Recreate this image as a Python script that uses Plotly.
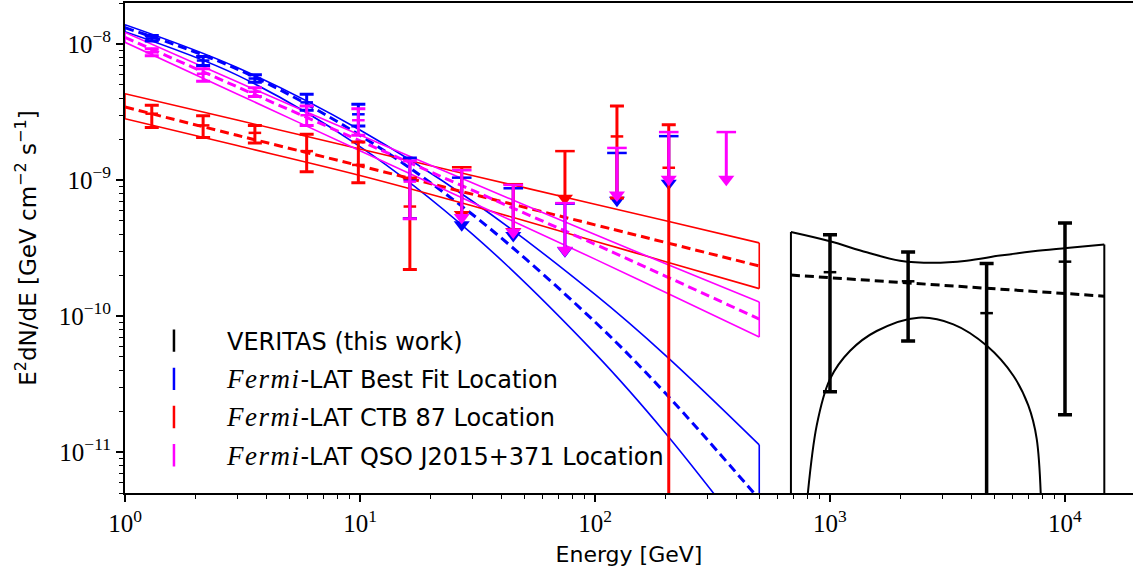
import plotly.graph_objects as go

# ---------------- Fermi-LAT spectral points ----------------
fermi_E = [1.30, 2.15, 3.57, 5.93, 9.84, 16.3]

blue_F = [1.10e-8, 7.55e-9, 5.57e-9, 3.72e-9, 3.04e-9, 1.00e-9]
blue_hi = [1.156e-8, 8.07e-9, 5.93e-9, 4.26e-9, 3.60e-9, 1.45e-9]
blue_lo = [1.05e-8, 6.94e-9, 5.23e-9, 3.25e-9, 2.49e-9, 5.2e-10]
blue_ul_E = [27.1, 44.9, 74.5, 124, 206]
blue_ul = [1.04e-9, 8.69e-10, 6.7e-10, 1.58e-9, 2.10e-9]

mag_F = [8.68e-9, 6.04e-9, 4.45e-9, 2.99e-9, 2.75e-9, 9.73e-10]
mag_hi = [9.2e-9, 6.56e-9, 4.76e-9, 3.50e-9, 3.34e-9, 1.38e-9]
mag_lo = [8.2e-9, 5.32e-9, 4.11e-9, 2.52e-9, 2.13e-9, 5.19e-10]
mag_ul_E = [27.1, 44.9, 74.5, 124, 206, 362]
mag_ul = [1.18e-9, 9.2e-10, 6.76e-10, 1.72e-9, 2.25e-9, 2.25e-9]

red_E = [1.30, 2.15, 3.57, 5.93, 9.84, 16.3, 124, 206]
red_F = [3.07e-9, 2.52e-9, 2.22e-9, 1.63e-9, 1.29e-9, 6.38e-10, 2.09e-9, 1.23e-9]
red_hi = [3.54e-9, 2.97e-9, 2.52e-9, 2.17e-9, 1.90e-9, 1.035e-9, 3.5e-9, 2.55e-9]
red_lo = [2.43e-9, 2.05e-9, 1.87e-9, 1.15e-9, 9.55e-10, 2.2e-10, 7.38e-10, 0.0]
red_ul_E = [27.1, 44.9, 74.5]
red_ul = [1.24e-9, 9.31e-10, 1.63e-9]

# ---------------- Fermi-LAT fitted spectra (butterflies) ----------------
fit_E = [1, 3, 10, 30, 100, 200, 500]
blue_fit = [1.315e-8, 6.54e-9, 2.13e-9, 5.6e-10, 9.05e-11, 2.69e-11, 4.5e-12]
blue_fit_hi = [1.384e-8, 6.71e-9, 2.33e-9, 7.01e-10, 1.44e-10, 5.12e-11, 1.13e-11]
blue_fit_lo = [1.23e-8, 5.90e-9, 1.76e-9, 4.02e-10, 5.31e-11, 1.37e-11, 1.83e-12]

red_fit = [3.44e-9, 2.13e-9, 1.27e-9, 7.87e-10, 4.68e-10, 3.47e-10, 2.33e-10]
red_fit_hi = [4.31e-9, 2.76e-9, 1.69e-9, 1.08e-9, 6.64e-10, 5.01e-10, 3.45e-10]
red_fit_lo = [2.82e-9, 1.79e-9, 1.08e-9, 6.46e-10, 3.55e-10, 2.51e-10, 1.59e-10]

mag_fit = [1.117e-8, 4.84e-9, 1.94e-9, 8.41e-10, 3.37e-10, 1.96e-10, 9.5e-11]
mag_fit_hi = [1.216e-8, 5.27e-9, 2.14e-9, 9.53e-10, 3.98e-10, 2.42e-10, 1.27e-10]
mag_fit_lo = [1.028e-8, 4.29e-9, 1.64e-9, 6.84e-10, 2.62e-10, 1.49e-10, 7.0e-11]

# ---------------- VERITAS ----------------
ver_E = [1000, 2150, 4640, 10000]
ver_F = [2.10e-10, 1.80e-10, 1.05e-10, 2.51e-10]
ver_hi = [3.96e-10, 2.96e-10, 2.43e-10, 4.82e-10]
ver_lo = [2.78e-11, 6.56e-11, 0.0, 1.88e-11]

ver_fit_E = [682, 14700]
ver_fit = [2.0e-10, 1.40e-10]
ver_band_E = [682, 1000, 1433, 1985, 2754, 3818, 5290, 7330, 10160, 14700]
ver_band_hi = [4.14e-10, 3.54e-10, 2.94e-10, 2.55e-10, 2.46e-10, 2.55e-10, 2.78e-10, 2.99e-10, 3.16e-10, 3.36e-10]
ver_dome_E = [783, 878, 1000, 1218, 1580, 2377, 3350, 4650, 6030, 6980, 7580, 7960]
ver_dome = [3e-12, 1.57e-11, 3.44e-11, 5.55e-11, 7.76e-11, 9.73e-11, 8.69e-11, 6.04e-11, 3.64e-11, 2.2e-11, 1.25e-11, 3e-12]

FERMI = ("<span style=\"font-family:'Liberation Serif';font-style:italic;"
         "font-size:27px;letter-spacing:1.5px\">Fermi</span>")
legend_names = [
    "VERITAS (this work)",
    FERMI + "-LAT Best Fit Location",
    FERMI + "-LAT CTB 87 Location",
    FERMI + "-LAT QSO J2015+371 Location",
]
legend_colors = ["#000000", "#0000ff", "#ff0000", "#ff00ff"]

BLUE, RED, MAG, BLACK = "#0000ff", "#ff0000", "#ff00ff", "#000000"
FLOOR = 1e-14
ARROW = 0.45

fig = go.Figure()


def line(x, y, color, width=1.6, dash=None, shape="spline"):
    fig.add_trace(go.Scatter(x=x, y=y, mode="lines", showlegend=False, hoverinfo="skip",
                             line=dict(color=color, width=width, dash=dash, shape=shape)))


def band(E, hi, lo, fit, color):
    line(E, hi, color)
    line(E, lo, color)
    line([E[0], E[0], None, E[-1], E[-1]], [lo[0], hi[0], None, hi[-1], lo[-1]], color, shape="linear")
    line(E, fit, color, width=3, dash="9px,5px")


def points(E, F, hi, lo, color, thick=3):
    fig.add_trace(go.Scatter(
        x=E, y=F, mode="markers", showlegend=False, hoverinfo="skip",
        marker=dict(symbol="line-ew", size=9, color=color, line=dict(color=color, width=2.5)),
        error_y=dict(type="data", symmetric=False,
                     array=[h - f for h, f in zip(hi, F)],
                     arrayminus=[f - l for f, l in zip(F, lo)],
                     color=color, thickness=thick, width=7)))


def uplims(E, ul, color):
    tip = [u * ARROW for u in ul]
    fig.add_trace(go.Scatter(
        x=E, y=tip, mode="markers", showlegend=False, hoverinfo="skip",
        marker=dict(symbol="triangle-down", size=14, color=color, line=dict(width=0)),
        error_y=dict(type="data", symmetric=False,
                     array=[u - t for u, t in zip(ul, tip)], arrayminus=[0] * len(ul),
                     color=color, thickness=3, width=0)))
    fig.add_trace(go.Scatter(
        x=E, y=ul, mode="markers", showlegend=False, hoverinfo="skip",
        marker=dict(symbol="line-ew", size=14, color=color, line=dict(color=color, width=2.5))))


# butterflies
band(fit_E, blue_fit_hi, blue_fit_lo, blue_fit, BLUE)
band(fit_E, red_fit_hi, red_fit_lo, red_fit, RED)
band(fit_E, mag_fit_hi, mag_fit_lo, mag_fit, MAG)

# VERITAS butterfly
line(ver_band_E, ver_band_hi, BLACK, width=2)
line([ver_band_E[0], ver_band_E[0], None, ver_band_E[-1], ver_band_E[-1]],
     [FLOOR, ver_band_hi[0], None, ver_band_hi[-1], FLOOR], BLACK, width=2, shape="linear")
line(ver_dome_E, ver_dome, BLACK, width=2)
line(ver_fit_E, ver_fit, BLACK, width=3, dash="9px,5px", shape="linear")

# points
points(ver_E, ver_F, ver_hi, ver_lo, BLACK, thick=3.5)
points(fermi_E, blue_F, blue_hi, blue_lo, BLUE)
uplims(blue_ul_E, blue_ul, BLUE)
points(red_E, red_F, red_hi, red_lo, RED)
uplims(red_ul_E, red_ul, RED)
points(fermi_E, mag_F, mag_hi, mag_lo, MAG)
uplims(mag_ul_E, mag_ul, MAG)

# legend entries
for i, (name, col) in enumerate(zip(legend_names, legend_colors)):
    fig.add_trace(go.Scatter(x=[None], y=[None], mode="markers", name=name, legendgroup=str(i),
                             marker=dict(symbol="line-ns", size=22, color=col, line=dict(color=col, width=2.5))))

minor_x = [m * 10 ** k for k in range(0, 5) for m in range(2, 10)]
minor_y = [m * 10.0 ** k for k in range(-12, -7) for m in range(2, 10)]

tickfont = dict(family="Liberation Serif", size=25, color="black")

fig.update_layout(
    width=1133, height=571,
    margin=dict(l=125, r=0, t=3, b=78, autoexpand=False),
    paper_bgcolor="white", plot_bgcolor="white",
    font=dict(family="DejaVu Sans", size=22, color="black"),
    showlegend=True,
    legend=dict(x=-0.004, y=0.356, xanchor="left", yanchor="top", bgcolor="rgba(0,0,0,0)",
                itemwidth=96, tracegroupgap=4, traceorder="grouped",
                font=dict(family="DejaVu Sans", size=24)),
    xaxis=dict(type="log", range=[0, 4.2894], showgrid=False, zeroline=False, automargin=False,
               tickvals=[1, 10, 100, 1000, 10000],
               ticktext=["10<sup>0</sup>", "10<sup>1</sup>", "10<sup>2</sup>", "10<sup>3</sup>", "10<sup>4</sup>"],
               tickfont=tickfont, ticks="outside", ticklen=7, tickwidth=1.5, tickcolor="black",
               minor=dict(tickvals=minor_x, ticks="outside", ticklen=4, tickwidth=1, tickcolor="black", showgrid=False),
               showline=True, linewidth=2, linecolor="black", mirror=True,
               title=dict(text="Energy [GeV]", font=dict(size=22), standoff=11)),
    yaxis=dict(type="log", range=[-11.301, -7.699], showgrid=False, zeroline=False, automargin=False,
               tickvals=[1e-11, 1e-10, 1e-9, 1e-8],
               ticktext=["10<sup>−11</sup>", "10<sup>−10</sup>", "10<sup>−9</sup>", "10<sup>−8</sup>"],
               tickfont=tickfont, ticks="outside", ticklen=7, tickwidth=1.5, tickcolor="black",
               minor=dict(tickvals=minor_y, ticks="outside", ticklen=4, tickwidth=1, tickcolor="black", showgrid=False),
               showline=True, linewidth=2, linecolor="black", mirror=False,
               title=dict(text="E<sup>2</sup>dN/dE [GeV cm<sup>−2</sup> s<sup>−1</sup>]", font=dict(size=23), standoff=16)),
)

fig.write_html("out.html", config={"displayModeBar": False},
               post_script="document.body.style.margin='0';")
